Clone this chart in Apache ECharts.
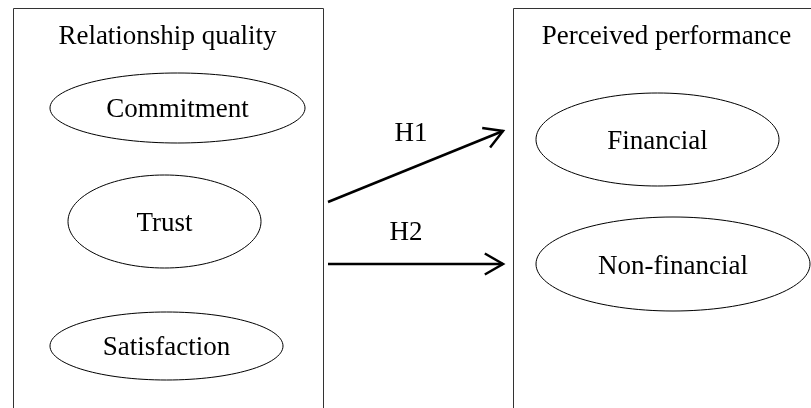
<!DOCTYPE html>
<html>
<head>
<meta charset="utf-8">
<script src="https://cdn.jsdelivr.net/npm/echarts@6/dist/echarts.min.js"></script>
<style>
  html, body { margin: 0; padding: 0; background: #fff; }
  #main { width: 811px; height: 408px; }
</style>
</head>
<body>
<div id="main"></div>
<script>
// groups (boxes) of the model
const groupTitles = ['Relationship quality', 'Perceived performance']
const groupTitleX = [167.5, 666.5]
const groupTitleY = [37, 37]
const groupLeft = [13, 513]
const groupTop = [8, 8]
const groupRight = [323, 830]
const groupBottom = [430, 430]

// constructs (ellipses)
const constructs = ['Commitment', 'Trust', 'Satisfaction', 'Financial', 'Non-financial']
const constructX = [177.5, 164.5, 166.5, 657.5, 673]
const constructY = [108, 221.5, 346, 139.5, 264]
const constructRx = [127.5, 96.5, 116.5, 121.5, 137]
const constructRy = [35, 46.5, 34, 46.5, 47]
const labelY = [110, 224, 348, 142, 267]

// hypotheses (arrows)
const hypotheses = ['H1', 'H2']
const arrowFromX = [328, 328]
const arrowFromY = [202, 264]
const arrowToX = [503, 503]
const arrowToY = [131, 264]
const hypLabelX = [411, 406]
const hypLabelY = [134, 233]

const FONT = '"Liberation Serif", "Times New Roman", serif'

function textEl(str, p) {
	return {
		type: 'text',
		style: {
			text: str,
			x: p[0],
			y: p[1],
			fill: '#000',
			fontFamily: FONT,
			fontSize: 27,
			align: 'center',
			verticalAlign: 'middle',
			textAlign: 'center',
			textVerticalAlign: 'middle'
		}
	}
}

const boxData = groupTitles.map((t, i) => [groupLeft[i], groupTop[i], groupRight[i], groupBottom[i], groupTitleX[i], groupTitleY[i]])
const ellipseData = constructs.map((c, i) => [constructX[i], constructY[i], constructRx[i], constructRy[i], labelY[i]])
const arrowData = hypotheses.map((h, i) => [arrowFromX[i], arrowFromY[i], arrowToX[i], arrowToY[i], hypLabelX[i], hypLabelY[i]])

const option = {
	animation: false,
	backgroundColor: '#fff',
	grid: { left: 0, right: 0, top: 0, bottom: 0 },
	xAxis: { type: 'value', min: 0, max: 811, show: false },
	yAxis: { type: 'value', min: 0, max: 408, inverse: true, show: false },
	series: [
		{
			type: 'custom',
			name: 'groups',
			data: boxData,
			renderItem: (params, api) => {
				const p1 = api.coord([api.value(0), api.value(1)])
				const p2 = api.coord([api.value(2), api.value(3)])
				const tp = api.coord([api.value(4), api.value(5)])
				return {
					type: 'group',
					children: [
						{
							type: 'rect',
							shape: { x: Math.round(p1[0]) + 0.5, y: Math.round(p1[1]) + 0.5, width: p2[0] - p1[0], height: p2[1] - p1[1] },
							style: { fill: 'none', stroke: '#333', lineWidth: 1 }
						},
						textEl(groupTitles[params.dataIndex], tp)
					]
				}
			}
		},
		{
			type: 'custom',
			name: 'constructs',
			data: ellipseData,
			renderItem: (params, api) => {
				const c = api.coord([api.value(0), api.value(1)])
				const r = api.size([api.value(2), api.value(3)])
				const lp = api.coord([api.value(0), api.value(4)])
				return {
					type: 'group',
					children: [
						{
							type: 'ellipse',
							shape: { cx: c[0], cy: c[1], rx: r[0], ry: r[1] },
							style: { fill: 'none', stroke: '#000', lineWidth: 1 }
						},
						textEl(constructs[params.dataIndex], lp)
					]
				}
			}
		},
		{
			type: 'custom',
			name: 'hypotheses',
			data: arrowData,
			renderItem: (params, api) => {
				const a = api.coord([api.value(0), api.value(1)])
				const b = api.coord([api.value(2), api.value(3)])
				const lp = api.coord([api.value(4), api.value(5)])
				const ang = Math.atan2(b[1] - a[1], b[0] - a[0])
				const len = 21, spread = Math.PI / 6
				const h1 = [b[0] - len * Math.cos(ang - spread), b[1] - len * Math.sin(ang - spread)]
				const h2 = [b[0] - len * Math.cos(ang + spread), b[1] - len * Math.sin(ang + spread)]
				return {
					type: 'group',
					children: [
						{
							type: 'line',
							shape: { x1: a[0], y1: a[1], x2: b[0], y2: b[1] },
							style: { stroke: '#000', lineWidth: 2.5 }
						},
						{
							type: 'polyline',
							shape: { points: [h1, b, h2] },
							style: { fill: 'none', stroke: '#000', lineWidth: 2.5 }
						},
						textEl(hypotheses[params.dataIndex], lp)
					]
				}
			}
		}
	]
}

const chart = echarts.init(document.getElementById('main'), null, { renderer: 'canvas' })
chart.setOption(option)
</script>
</body>
</html>
